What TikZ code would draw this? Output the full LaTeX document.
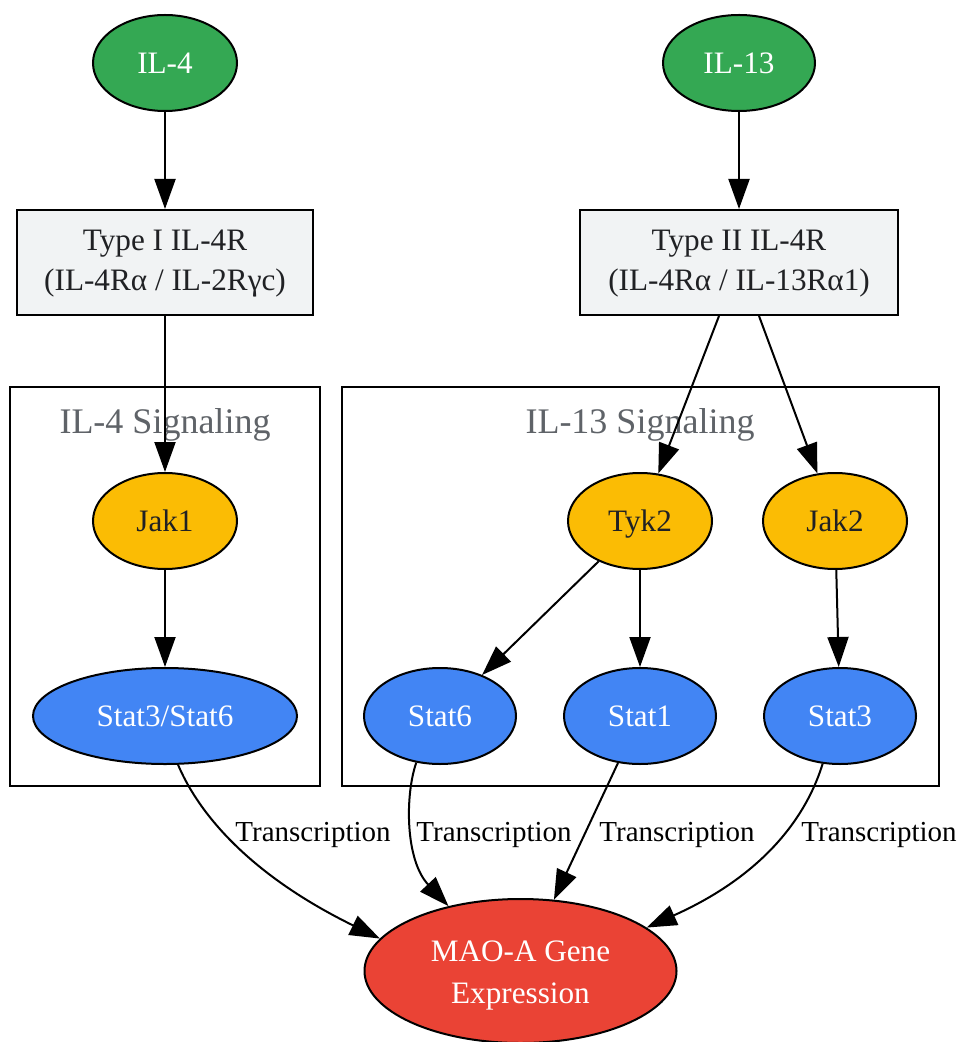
\documentclass[tikz,border=0pt]{standalone}
\usepackage{fontspec}
\setmainfont{Liberation Serif}
\usetikzlibrary{arrows.meta,shapes.geometric}
\definecolor{cgreen}{HTML}{34A853}
\definecolor{cyellow}{HTML}{FBBC04}
\definecolor{cblue}{HTML}{4285F4}
\definecolor{cred}{HTML}{EA4335}
\definecolor{cgray}{HTML}{F1F3F4}
\definecolor{ctext}{HTML}{202124}
\definecolor{clabel}{HTML}{5F6368}
\newcommand{\twolines}[2]{\begin{tabular}[t]{@{}c@{}}#1\\#2\end{tabular}}
\tikzset{
  base/.style={draw=black, line width=1pt, inner sep=0pt, font=\fontsize{15.6}{20}\selectfont},
  oneline/.style={text height=14pt, text depth=3.8pt},
  oval/.style={base, ellipse, minimum height=48pt},
  greenov/.style={oval, oneline, fill=cgreen, text=white, minimum width=72pt},
  yellowov/.style={oval, oneline, fill=cyellow, text=ctext, minimum width=72pt},
  blueov/.style={oval, oneline, fill=cblue, text=white, minimum width=76pt},
  recbox/.style={base, rectangle, fill=cgray, text=ctext, minimum height=52.5pt, text height=14pt, text depth=25.8pt},
  clusterbox/.style={draw=black, line width=1pt},
  clusterlab/.style={text=clabel, font=\fontsize{18}{22}\selectfont, inner sep=0pt, text height=16pt, text depth=4.1pt},
  edgelab/.style={text=black, font=\fontsize{14.5}{18}\selectfont, inner sep=0pt, text height=13pt, text depth=3.6pt},
  arr/.style={draw=black, line width=1pt, -{Triangle[length=15pt,width=10.5pt]}}
}
\begin{document}
\begin{tikzpicture}[x=0.5pt,y=-0.5pt]
\useasboundingbox (0,0) rectangle (959,1042);
% clusters
\draw[clusterbox] (10,387) rectangle (320,786);
\draw[clusterbox] (342,387) rectangle (939,786);
\node[clusterlab] (l4) at (165,422) {IL-4 Signaling};
\node[clusterlab] (l13) at (640,422) {IL-13 Signaling};
% nodes
\node[greenov] (il4) at (165,63) {IL-4};
\node[greenov, minimum width=76pt] (il13) at (739,63) {IL-13};
\node[recbox, minimum width=148pt] (t1) at (165,262.5) {\twolines{Type I IL-4R}{(IL-4Rα / IL-2Rγc)}};
\node[recbox, minimum width=159pt] (t2) at (739,262.5) {\twolines{Type II IL-4R}{(IL-4Rα / IL-13Rα1)}};
\node[yellowov] (jak1) at (165,521) {Jak1};
\node[yellowov] (tyk2) at (640,521) {Tyk2};
\node[yellowov] (jak2) at (835,521) {Jak2};
\node[blueov, minimum width=132pt] (s36) at (165,716) {Stat3/Stat6};
\node[blueov] (s6) at (440,716) {Stat6};
\node[blueov] (s1) at (640,716) {Stat1};
\node[blueov] (s3) at (840,716) {Stat3};
\node[oval, fill=cred, text=white, minimum width=156pt, minimum height=72pt, font=\fontsize{15.6}{20.8}\selectfont, text height=14.56pt, text depth=23.86pt] (mao) at (520.5,971) {\twolines{MAO-A Gene}{Expression}};
% edges
\draw[arr] (il4) -- (t1);
\draw[arr] (il13) -- (t2);
\draw[arr] (t1) -- (jak1);
\draw[arr] ([xshift=-10pt]t2.south) -- (tyk2);
\draw[arr] ([xshift=10pt]t2.south) -- (jak2);
\draw[arr] (jak1) -- (s36);
\draw[arr] (tyk2) -- (s6);
\draw[arr] (tyk2) -- (s1);
\draw[arr] (jak2) -- (s3);
\draw[arr] (s36.-75) .. controls (195,805) and (240,870) .. (mao.167);
\draw[arr] (s6.-117) .. controls (405,795) and (405,860) .. (mao.138);
\draw[arr] (s1) -- (mao);
\draw[arr] (s3.-110) .. controls (810,805) and (775,870) .. (mao.19);
% edge labels
\node[edgelab] (e1) at (313,832) {Transcription};
\node[edgelab] (e2) at (494,832) {Transcription};
\node[edgelab] (e3) at (677,832) {Transcription};
\node[edgelab] (e4) at (879,832) {Transcription};
\end{tikzpicture}
\end{document}
